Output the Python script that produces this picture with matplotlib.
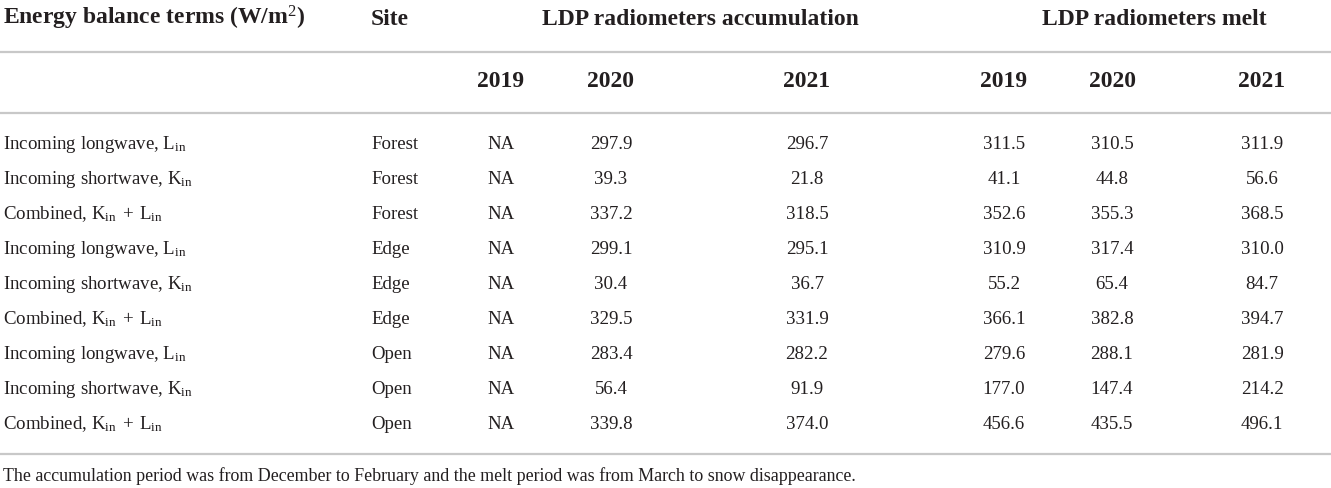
import matplotlib
matplotlib.use("Agg")
import matplotlib.pyplot as plt

plt.rcParams['font.family'] = ['Liberation Serif', 'DejaVu Serif']
plt.rcParams['mathtext.fontset'] = 'custom'
plt.rcParams['mathtext.rm'] = 'Liberation Serif'
plt.rcParams['mathtext.it'] = 'Liberation Serif:italic'
plt.rcParams['mathtext.bf'] = 'Liberation Serif:bold'

# table content
terms = [r"Incoming longwave, $\mathrm{L_{in}}$",
         r"Incoming shortwave, $\mathrm{K_{in}}$",
         r"Combined, $\mathrm{K_{in}}\;+\;\mathrm{L_{in}}$"] * 3
sites = ["Forest"] * 3 + ["Edge"] * 3 + ["Open"] * 3
acc_2019 = ["NA"] * 9
acc_2020 = ["297.9", "39.3", "337.2", "299.1", "30.4", "329.5", "283.4", "56.4", "339.8"]
acc_2021 = ["296.7", "21.8", "318.5", "295.1", "36.7", "331.9", "282.2", "91.9", "374.0"]
melt_2019 = ["311.5", "41.1", "352.6", "310.9", "55.2", "366.1", "279.6", "177.0", "456.6"]
melt_2020 = ["310.5", "44.8", "355.3", "317.4", "65.4", "382.8", "288.1", "147.4", "435.5"]
melt_2021 = ["311.9", "56.6", "368.5", "310.0", "84.7", "394.7", "281.9", "214.2", "496.1"]
years = ["2019", "2020", "2021"]
footnote = ("The accumulation period was from December to February and the "
            "melt period was from March to snow disappearance.")

W, H = 1331, 488
fig = plt.figure(figsize=(W / 100, H / 100), dpi=100)
ax = fig.add_axes([0, 0, 1, 1])
ax.set_xlim(0, W)
ax.set_ylim(H, 0)
ax.axis('off')

txt = '#231f20'
line_col = '#c8c8c8'
body = 13.6
head = 17

# header (baselines)
hb = 25
ax.text(3, hb, r"Energy balance terms (W/m$^{\mathrm{2}}$)", fontsize=head, fontweight='bold',
        color=txt, va='baseline', ha='left')
ax.text(371, hb, "Site", fontsize=head, fontweight='bold', color=txt, va='baseline', ha='left')
ax.text(700, hb, "LDP radiometers accumulation", fontsize=head, fontweight='bold',
        color=txt, va='baseline', ha='center')
ax.text(1154, hb, "LDP radiometers melt", fontsize=head, fontweight='bold',
        color=txt, va='baseline', ha='center')

acc_x = [501, 611, 807]
melt_x = [1004, 1112, 1262]
for x, y in zip(acc_x + melt_x, years + years):
    ax.text(x, 87, y, fontsize=head, fontweight='bold', color=txt, va='baseline', ha='center')

for ly in [52, 113, 454]:
    ax.plot([0, W], [ly, ly], color=line_col, lw=1.6, solid_capstyle='butt')

row_y0, row_dy = 149, 35
cols = [acc_2019, acc_2020, acc_2021, melt_2019, melt_2020, melt_2021]
for i in range(len(terms)):
    y = row_y0 + i * row_dy
    ax.text(3, y, terms[i], fontsize=body, color=txt, va='baseline', ha='left')
    ax.text(371, y, sites[i], fontsize=body, color=txt, va='baseline', ha='left')
    for x, col in zip(acc_x + melt_x, cols):
        ax.text(x, y, col[i], fontsize=body, color=txt, va='baseline', ha='center')

ax.text(3, 481, footnote, fontsize=12.9, color=txt, va='baseline', ha='left')

fig.savefig("out.png", dpi=100)
